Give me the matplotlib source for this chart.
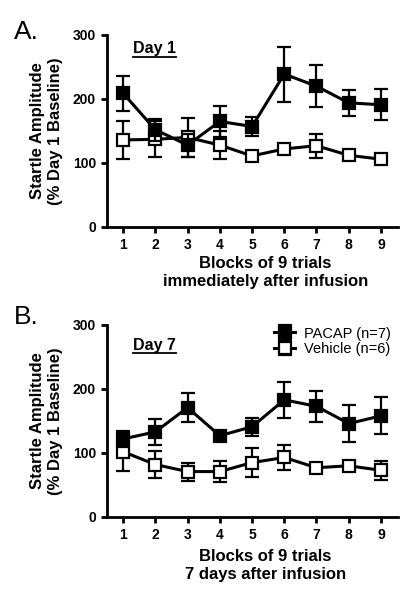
import numpy as np
import matplotlib
matplotlib.use('Agg')
import matplotlib.pyplot as plt

plt.rcParams['font.family'] = ['Liberation Sans', 'DejaVu Sans']

blocks = [1, 2, 3, 4, 5, 6, 7, 8, 9]

# Day 1 (panel A)
pacap_d1 = [209, 152, 128, 165, 157, 239, 220, 194, 191]
pacap_d1_err = [27, 17, 18, 24, 15, 43, 33, 20, 24]
veh_d1 = [136, 137, 140, 128, 111, 122, 127, 112, 106]
veh_d1_err = [30, 28, 30, 22, 8, 5, 19, 8, 5]

# Day 7 (panel B)
pacap_d7 = [122, 133, 171, 127, 141, 183, 173, 146, 158]
pacap_d7_err = [13, 20, 23, 5, 14, 28, 24, 29, 29]
veh_d7 = [102, 82, 71, 71, 85, 93, 77, 80, 73]
veh_d7_err = [30, 21, 14, 17, 23, 20, 5, 5, 15]

fig = plt.figure(figsize=(4.14, 5.99), dpi=100)

W, H = 414, 599
def pos(top, bottom, left=107, right=398):
    return [left / W, 1 - bottom / H, (right - left) / W, (bottom - top) / H]

panels = [
    (pos(35, 227), 'A.', 'Day 1', pacap_d1, pacap_d1_err, veh_d1, veh_d1_err,
     'Blocks of 9 trials\nimmediately after infusion', 0.906, 0.885, -0.15, 20),
    (pos(325, 517), 'B.', 'Day 7', pacap_d7, pacap_d7_err, veh_d7, veh_d7_err,
     'Blocks of 9 trials\n7 days after infusion', 0.87, 0.852, -0.168, 305),
]

for rect, letter, day, p, pe, v, ve, xlab, day_y, ul_y, xlab_y, let_y in panels:
    ax = fig.add_axes(rect)
    style = dict(lw=2.2, elinewidth=1.6, capsize=4.8, capthick=1.6,
                 marker='s', ms=8, mew=1.6, color='black', mec='black')
    eb_v = ax.errorbar(blocks, v, yerr=ve, mfc='white', zorder=2,
                       label='Vehicle (n=6)', **style)
    eb_p = ax.errorbar(blocks, p, yerr=pe, mfc='black', zorder=3,
                       label='PACAP (n=7)', **style)

    ax.set_xlim(0.5, 9.53)
    ax.set_ylim(0, 300)
    ax.set_xticks(blocks)
    ax.set_yticks([0, 100, 200, 300])
    for s in ['top', 'right']:
        ax.spines[s].set_visible(False)
    for s in ['left', 'bottom']:
        ax.spines[s].set_linewidth(2)
    ax.tick_params(direction='out', length=4, width=2, labelsize=10, pad=4)
    for t in ax.get_xticklabels() + ax.get_yticklabels():
        t.set_fontweight('bold')

    ax.set_ylabel('Startle Amplitude\n(% Day 1 Baseline)', fontsize=12,
                  fontweight='bold', linespacing=1.3)
    ax.yaxis.set_label_coords(-0.15, 0.5)
    ax.set_xlabel(xlab, fontsize=12, fontweight='bold', linespacing=1.25)
    ax.xaxis.set_label_coords(0.545, xlab_y)
    ax.xaxis.label.set_va('top')

    ax.text(0.089, day_y, day, transform=ax.transAxes, fontsize=11.5,
            fontweight='bold', va='baseline', ha='left')
    ax.plot([0.089, 0.237], [ul_y, ul_y], transform=ax.transAxes,
            color='black', lw=1.3, clip_on=False)

    fig.text(14 / W, 1 - let_y / H, letter, fontsize=19, va='top', ha='left')

    if letter == 'B.':
        ax.legend([eb_p, eb_v], ['PACAP (n=7)', 'Vehicle (n=6)'],
                  loc='upper left', bbox_to_anchor=(0.55, 1.03),
                  frameon=False, fontsize=10.5, handlelength=1.45,
                  handletextpad=0.6, labelspacing=0.1, borderpad=0)

fig.savefig('out.png', dpi=100)
